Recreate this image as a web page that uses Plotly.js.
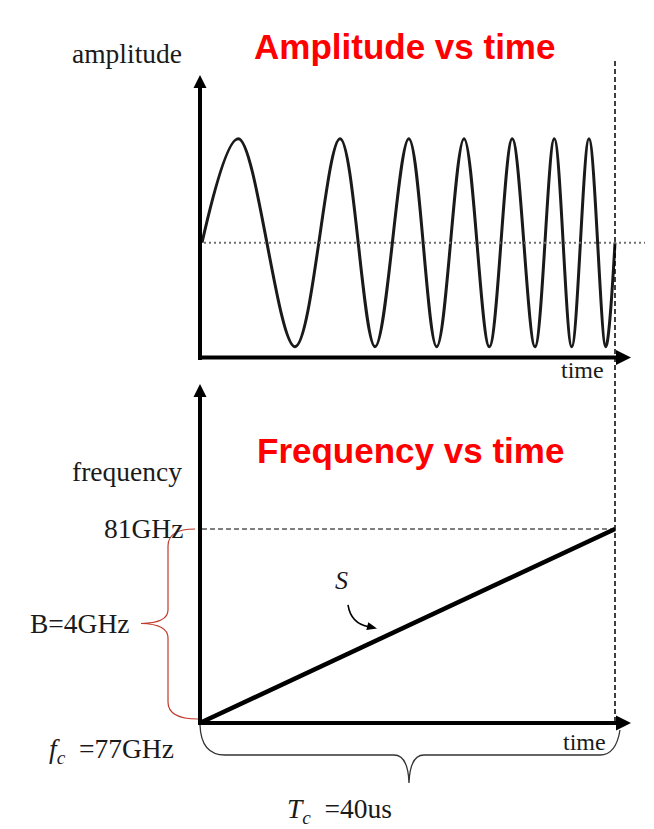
<!DOCTYPE html>
<html>
<head>
<meta charset="utf-8">
<script src="https://cdn.plot.ly/plotly-3.0.1.min.js"></script>
<style>html,body{margin:0;padding:0;background:#fff;}#chart{width:654px;height:829px;}</style>
</head>
<body>
<div id="chart"></div>
<script>
// ---- Data ----
// Chirp (amplitude vs time): start, peaks / troughs, end; time in µs
const amplitudeTime = [0, 3.52, 9.01, 13.37, 16.76, 20.03, 22.73, 25.38, 27.83, 30.05, 32.25,
  34.12, 35.81, 37.48, 39.10, 40.00];
const amplitudeValue = [0, 1, -1, 1, -1, 1, -1, 1, -1, 1, -1, 1, -1, 1, -1, 0];
// Frequency vs time (GHz over µs)
const freqTime = [0, 40];
const freqValue = [77, 81];
// Labels
const topTitle = 'Amplitude vs time';
const bottomTitle = 'Frequency vs time';
const yLabelTop = 'amplitude';
const yLabelBottom = 'frequency';
const xLabel = 'time';
const fMaxLabel = '81GHz';
const bandwidthLabel = 'B=4GHz';
const fcLabel = '<i>f</i><sub><i>c</i></sub>&nbsp; =77GHz';
const tcLabel = '<i>T</i><sub><i>c</i></sub>&nbsp; =40us';
const slopeLabel = '<i>S</i>';

// ---- Layout helpers (pixel -> paper) ----
const W = 654, H = 829;
const px = x => x / W;
const py = y => 1 - y / H;
const P = (x, y) => px(x).toFixed(5) + ',' + py(y).toFixed(5);

const serif = 'Liberation Serif, Times New Roman, serif';
const sans = 'Liberation Sans, Arial, sans-serif';
const ink = '#1a1a1a';

const traces = [
  {x: amplitudeTime, y: amplitudeValue, xaxis: 'x', yaxis: 'y', mode: 'lines',
   line: {color: ink, width: 3, shape: 'spline', smoothing: 1}, hoverinfo: 'skip'},
  {x: freqTime, y: freqValue, xaxis: 'x', yaxis: 'y2', mode: 'lines',
   line: {color: '#000', width: 4.5}, hoverinfo: 'skip'}
];

function label(text, x, y, size, xanchor, opts) {
  return Object.assign({xref: 'paper', yref: 'paper', x: px(x), y: py(y), text: text, showarrow: false,
    xanchor: xanchor || 'center', yanchor: 'middle', font: {family: serif, size: size, color: ink}}, opts || {});
}
function seg(x0, y0, x1, y1, w) {
  return {type: 'line', xref: 'paper', yref: 'paper', x0: px(x0), y0: py(y0), x1: px(x1), y1: py(y1),
    line: {color: '#000', width: w}};
}
function tri(a, b, c) {
  return {type: 'path', xref: 'paper', yref: 'paper', path: 'M' + P(a[0], a[1]) + ' L' + P(b[0], b[1]) + ' L' + P(c[0], c[1]) + ' Z',
    fillcolor: '#000', line: {width: 0}};
}

const annotations = [
  label(topTitle, 405, 46, 35, 'center', {font: {family: sans, size: 35, color: '#ff0000', weight: 'bold'}}),
  label(bottomTitle, 410, 451, 35, 'center', {font: {family: sans, size: 35, color: '#ff0000', weight: 'bold'}}),
  label(yLabelTop, 127, 54, 27.5),
  label(yLabelBottom, 127, 471, 27.5),
  label(xLabel, 582, 370, 24),
  label(xLabel, 584, 742, 24),
  label(fMaxLabel, 185, 528, 27.5, 'right'),
  label(bandwidthLabel, 132, 623, 27.5, 'right'),
  label(fcLabel, 176, 750, 27.5, 'right'),
  label(tcLabel, 394, 810, 27.5, 'right'),
  label(slopeLabel, 341, 580, 26)
];

const shapes = [
  // axes with arrowheads
  seg(200, 360, 200, 86, 4), tri([193.5, 88], [200, 75], [206.5, 88]),
  seg(198, 357.5, 618, 357.5, 4), tri([616, 350], [631, 357.5], [616, 365]),
  seg(200, 725, 200, 395, 4), tri([193.5, 397], [200, 384], [206.5, 397]),
  seg(198, 723, 618, 723, 4), tri([616, 715.5], [631, 723], [616, 730.5]),
  // vertical dashed line at end of chirp
  {type: 'line', xref: 'x', yref: 'paper', x0: freqTime[1], x1: freqTime[1], y0: py(722), y1: py(58),
   line: {color: '#000', width: 1.5, dash: '5px,3px'}},
  // horizontal dashed line at max frequency
  {type: 'line', xref: 'x', yref: 'y2', x0: freqTime[0], x1: freqTime[1], y0: freqValue[1], y1: freqValue[1],
   line: {color: '#000', width: 1.2, dash: '5px,3px'}},
  // dotted zero line
  {type: 'line', xref: 'paper', yref: 'y', x0: px(204), x1: px(645), y0: 0, y1: 0,
   line: {color: '#707070', width: 2, dash: '2px,3px'}},
  // red brace for bandwidth
  {type: 'path', xref: 'paper', yref: 'paper',
   path: 'M' + P(195, 529) + ' Q' + P(168, 529) + ' ' + P(168, 546) + ' L' + P(168, 610) +
         ' Q' + P(168, 623) + ' ' + P(141, 623.5) + ' Q' + P(168, 624) + ' ' + P(168, 638) +
         ' L' + P(168, 702) + ' Q' + P(168, 719) + ' ' + P(198, 719),
   line: {color: '#c0392b', width: 1.2}},
  // black brace for chirp duration
  {type: 'path', xref: 'paper', yref: 'paper',
   path: 'M' + P(200, 725) + ' Q' + P(201, 755) + ' ' + P(225, 755) + ' L' + P(394, 755) +
         ' Q' + P(408, 755) + ' ' + P(409, 783) + ' Q' + P(410, 755) + ' ' + P(424, 755) +
         ' L' + P(600, 755) + ' Q' + P(616, 755) + ' ' + P(620, 730),
   line: {color: '#333', width: 1.3}},
  // curved arrow near S
  {type: 'path', xref: 'paper', yref: 'paper',
   path: 'M' + P(348, 605) + ' Q' + P(351, 624) + ' ' + P(369, 626.8),
   line: {color: '#000', width: 1.6}},
  tri([366.3, 629.9], [377, 628.5], [368.3, 622.2])
];

const xr = [-202 / 10.325, (654 - 202) / 10.325];
const layout = {
  width: W, height: H,
  margin: {l: 0, r: 0, t: 0, b: 0, pad: 0},
  paper_bgcolor: '#fff', plot_bgcolor: 'rgba(0,0,0,0)',
  showlegend: false,
  xaxis: {domain: [0, 1], range: xr, visible: false, fixedrange: true},
  yaxis: {domain: [0, 1], range: [(242.7 - 829) / 104, 242.7 / 104], visible: false, fixedrange: true},
  yaxis2: {overlaying: 'y', range: [77 - (829 - 722) / 48.25, 77 + 722 / 48.25], visible: false, fixedrange: true},
  annotations: annotations,
  shapes: shapes
};

Plotly.newPlot('chart', traces, layout, {displayModeBar: false, staticPlot: true});
</script>
</body>
</html>
